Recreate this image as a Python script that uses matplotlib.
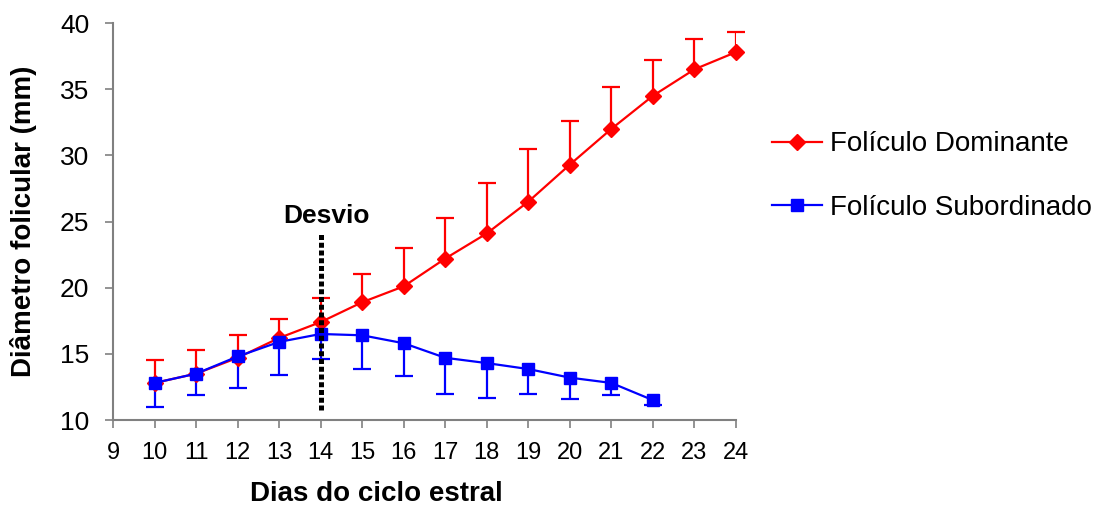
import numpy as np
import matplotlib
matplotlib.use("Agg")
import matplotlib.pyplot as plt

plt.rcParams['font.family'] = ['Liberation Sans', 'DejaVu Sans']

# Folículo dominante: mean and top of error bar (mm)
days_dom = [10, 11, 12, 13, 14, 15, 16, 17, 18, 19, 20, 21, 22, 23, 24]
dom_mean = [12.8, 13.5, 14.7, 16.2, 17.4, 18.9, 20.1, 22.2, 24.1, 26.5, 29.3, 32.0, 34.5, 36.5, 37.8]
dom_top = [14.5, 15.3, 16.4, 17.6, 19.2, 21.0, 23.0, 25.3, 27.9, 30.5, 32.6, 35.2, 37.2, 38.8, 39.3]

# Folículo subordinado: mean and bottom of error bar (mm)
days_sub = [10, 11, 12, 13, 14, 15, 16, 17, 18, 19, 20, 21, 22]
sub_mean = [12.8, 13.5, 14.8, 15.9, 16.5, 16.4, 15.8, 14.7, 14.3, 13.85, 13.2, 12.8, 11.5]
sub_bottom = [11.0, 11.9, 12.4, 13.4, 14.6, 13.85, 13.3, 12.0, 11.7, 12.0, 11.6, 11.9, 11.1]

desvio_day = 14
desvio_range = (10.75, 24.2)

xticks = list(range(9, 25))
yticks = [10, 15, 20, 25, 30, 35, 40]

fig = plt.figure(figsize=(11.09, 5.09), dpi=100)
ax = fig.add_axes([113 / 1109, 1 - 420 / 509, (736 - 113) / 1109, (420 - 23) / 509])

# one-sided error bars: stem + cap at the far end only
ax.vlines(days_dom, dom_mean, dom_top, color='#ff0000', lw=1.6, zorder=2)
ax.plot(days_dom, dom_top, ls='none', marker='_', markersize=13, mew=1.6,
        color='#ff0000', zorder=2, clip_on=False)
ax.vlines(days_sub, sub_bottom, sub_mean, color='#0000ff', lw=1.6, zorder=2)
ax.plot(days_sub, sub_bottom, ls='none', marker='_', markersize=13, mew=1.6,
        color='#0000ff', zorder=2, clip_on=False)

ax.plot(days_dom, dom_mean, color='#ff0000', lw=1.6, marker='D', markersize=8.5,
        label='Folículo Dominante', zorder=3, clip_on=False)
ax.plot(days_sub, sub_mean, color='#0000ff', lw=1.6, marker='s', markersize=8.5,
        label='Folículo Subordinado', zorder=4, clip_on=False)

ax.plot([desvio_day, desvio_day], desvio_range, color='black', lw=3.6,
        dashes=(1, 0.55), dash_capstyle='butt', zorder=5)
ax.text(desvio_day + 0.15, 24.5, 'Desvio', fontsize=19, fontweight='bold',
        ha='center', va='bottom')

ax.set_xlim(9, 24)
ax.set_ylim(10, 40)
ax.set_xticks(xticks)
ax.set_yticks(yticks)
for s in ['top', 'right']:
    ax.spines[s].set_visible(False)
for s in ['left', 'bottom']:
    ax.spines[s].set_color('#808080')
    ax.spines[s].set_linewidth(1.5)
ax.tick_params(axis='both', colors='#808080', length=6, width=1.2, direction='out')
ax.tick_params(axis='x', labelsize=17, labelcolor='black', pad=10)
ax.tick_params(axis='y', labelsize=19, labelcolor='black', pad=11)

fig.text(24 / 1109, 1 - 221 / 509, 'Diâmetro folicular (mm)', fontsize=20,
         fontweight='bold', rotation=90, ha='center', va='center')
fig.text(376 / 1109, 1 - 494 / 509, 'Dias do ciclo estral', fontsize=20,
         fontweight='bold', ha='center', va='center')

fig.legend(loc='center left', bbox_to_anchor=(772 / 1109, 1 - 176 / 509),
           frameon=False, fontsize=20, handlelength=1.8, handletextpad=0.3,
           labelspacing=1.35, borderpad=0, borderaxespad=0)

fig.savefig('out.png', dpi=100)
